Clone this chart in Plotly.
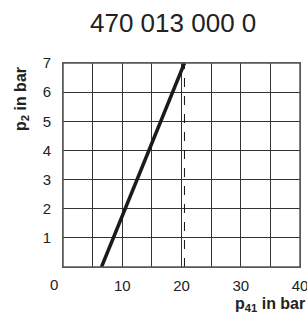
import plotly.graph_objects as go

# Data
line_p41 = [6.5, 20.5]
line_p2 = [0, 7]
dash_p41 = [20.5, 20.5]
dash_p2 = [0, 7]
x_tickvals = [10, 20, 30, 40]
x_ticktext = ["10", "20", "30", "40"]
y_tickvals = [1, 2, 3, 4, 5, 6, 7]
title_text = "470 013 000 0"

FONT = "Liberation Sans, Arial, sans-serif"

fig = go.Figure()
fig.add_trace(go.Scatter(x=dash_p41, y=dash_p2, mode="lines",
                         line=dict(color="#111", width=1, dash="dash"), showlegend=False))
fig.add_trace(go.Scatter(x=line_p41, y=line_p2, mode="lines",
                         line=dict(color="#1a1a1a", width=3.5), showlegend=False))

fig.update_layout(
    width=307, height=315,
    margin=dict(l=63, r=7, t=63, b=48),
    paper_bgcolor="white", plot_bgcolor="white",
    font=dict(family=FONT, size=15, color="#222"),
    xaxis=dict(range=[0, 40], showgrid=True, gridcolor="#333", gridwidth=1, automargin=False,
               tickmode="array", tickvals=x_tickvals, ticktext=x_ticktext,
               ticks="outside", ticklen=5, tickcolor="rgba(0,0,0,0)",
               ticklabeloverflow="allow",
               showline=True, linecolor="#666", mirror=True, zeroline=False,
               minor=dict(dtick=5, tick0=0, showgrid=True, gridcolor="#333", gridwidth=1)),
    yaxis=dict(range=[0, 7], showgrid=True, gridcolor="#333", gridwidth=1, automargin=False,
               tickmode="array", tickvals=y_tickvals,
               ticks="outside", ticklen=8, tickcolor="rgba(0,0,0,0)",
               ticklabeloverflow="allow",
               showline=True, linecolor="#666", mirror=True, zeroline=False),
)

# plot frame
fig.add_shape(type="rect", xref="x domain", yref="y domain", x0=0, x1=1, y0=0, y1=1,
              line=dict(color="#555", width=1.5), fillcolor="rgba(0,0,0,0)", layer="above")

fig.add_annotation(text=title_text, x=(173 - 63) / 237, y=1 + 40 / 204, xref="paper", yref="paper",
                   showarrow=False, font=dict(size=26, color="#222", family=FONT),
                   xanchor="center", yanchor="middle")
fig.add_annotation(text="0", x=-9 / 237, y=-17 / 204, xref="paper", yref="paper",
                   showarrow=False, font=dict(size=15, color="#222", family=FONT),
                   xanchor="center", yanchor="middle")
fig.add_annotation(text="<b>p<sub>2</sub> in bar</b>", x=-42 / 237, y=1 - 36 / 204,
                   xref="paper", yref="paper", showarrow=False, textangle=-90,
                   font=dict(size=16, color="#222", family=FONT),
                   xanchor="center", yanchor="middle")
fig.add_annotation(text="<b>p<sub>41</sub> in bar</b>", x=(307 - 63) / 237, y=-37 / 204,
                   xref="paper", yref="paper", showarrow=False,
                   font=dict(size=16, color="#222", family=FONT),
                   xanchor="right", yanchor="middle")

fig.write_html("out.html",
               config={"displayModeBar": False, "responsive": False},
               post_script="document.documentElement.style.overflow='hidden';"
                           "document.body.style.overflow='hidden';"
                           "document.body.style.margin='0';")
